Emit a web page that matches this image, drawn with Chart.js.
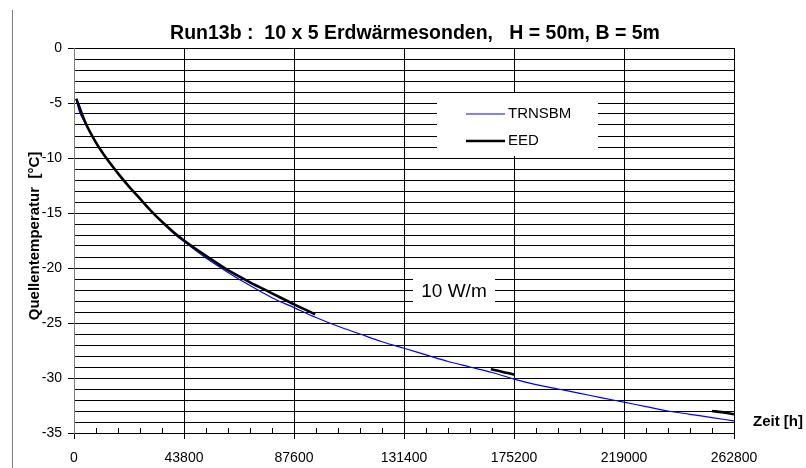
<!DOCTYPE html>
<html>
<head>
<meta charset="utf-8">
<script src="https://cdn.jsdelivr.net/npm/chart.js@4"></script>
<style>
  html, body { margin: 0; padding: 0; background: #fff; }
</style>
</head>
<body>
<canvas id="chart" width="806" height="468"></canvas>
<script>
// values
const titleText = 'Run13b :  10 x 5 Erdwärmesonden,   H = 50m, B = 5m';
const yTitle = 'Quellentemperatur  [°C]';
const xTitle = 'Zeit [h]';
const seriesNames = ['TRNSBM', 'EED'];
const noteText = '10 W/m';

const xMajorStep = 43800;
const xMinorStep = 8760;
const xMax = 262800;
const yMin = -35, yMax = 0;

const trnsbmHours = [900, 2190, 4380, 8760, 13140, 17520, 21900, 26280, 30660, 35040, 39420, 43800,
  52560, 61320, 70080, 78840, 87600, 96360, 105120, 113880, 122640, 131400, 140160, 148920,
  157680, 166440, 175200, 183960, 192720, 201480, 210240, 219000, 227760, 236520, 245280, 254040, 262800];
const trnsbmTemp = [-4.7, -5.8, -6.8, -8.6, -10.1, -11.4, -12.6, -13.7, -14.8, -15.8, -16.8, -17.6,
  -19.1, -20.4, -21.6, -22.7, -23.6, -24.5, -25.3, -26.0, -26.7, -27.3, -27.9, -28.5,
  -29.0, -29.5, -30.1, -30.6, -31.0, -31.4, -31.8, -32.2, -32.6, -33.0, -33.3, -33.6, -33.9];

// EED only has three stretches; null breaks the line between them
const eedHours = [900, 4380, 8760, 13140, 17520, 21900, 26280, 30660, 35040, 39420, 43800,
  52560, 61320, 70080, 78840, 87600, 96000, 130000,
  166000, 170000, 175500, 215000,
  254000, 258000, 262800];
const eedTemp = [-4.6, -6.7, -8.6, -10.1, -11.4, -12.6, -13.7, -14.8, -15.8, -16.7, -17.5,
  -18.9, -20.2, -21.3, -22.3, -23.3, -24.2, null,
  -29.2, -29.4, -29.7, null,
  -33.0, -33.1, -33.3];

const FONT = "'Liberation Sans', Arial, sans-serif";
Chart.defaults.font.family = FONT;
Chart.defaults.color = '#000';

const toPoints = (xs, ys) => xs.map((x, i) => ({ x: x, y: ys[i] }));

// white boxes, titles and extra tick marks
const decor = {
  id: 'decor',
  beforeDatasetsDraw(chart) {
    const ctx = chart.ctx;
    ctx.save();
    ctx.fillStyle = '#fff';
    ctx.fillRect(437, 93, 161, 63);
    ctx.fillRect(413, 271, 82, 40);

    // legend
    ctx.lineWidth = 1.2;
    ctx.strokeStyle = '#0000ff';
    ctx.beginPath(); ctx.moveTo(466, 114); ctx.lineTo(505, 114); ctx.stroke();
    ctx.lineWidth = 2.6;
    ctx.strokeStyle = '#000';
    ctx.beginPath(); ctx.moveTo(466, 141); ctx.lineTo(505, 141); ctx.stroke();
    ctx.fillStyle = '#000';
    ctx.font = '15px ' + FONT;
    ctx.textAlign = 'left';
    ctx.textBaseline = 'middle';
    ctx.fillText(seriesNames[0], 508, 114);
    ctx.fillText(seriesNames[1], 508, 141);

    ctx.font = '19px ' + FONT;
    ctx.textAlign = 'center';
    ctx.fillText(noteText, 454, 292);
    ctx.restore();
  },
  afterDraw(chart) {
    const ctx = chart.ctx;
    const xs = chart.scales.x;
    const area = chart.chartArea;
    ctx.save();
    // minor ticks on the time axis, pointing up
    ctx.strokeStyle = '#000';
    ctx.lineWidth = 1;
    for (let v = xMinorStep; v < xMax; v += xMinorStep) {
      if (v % xMajorStep === 0) continue;
      const px = Math.round(xs.getPixelForValue(v)) + 0.5;
      ctx.beginPath(); ctx.moveTo(px, area.bottom); ctx.lineTo(px, area.bottom - 5); ctx.stroke();
    }
    // left frame line
    ctx.strokeStyle = '#808080';
    ctx.beginPath(); ctx.moveTo(12.5, 10); ctx.lineTo(12.5, 468); ctx.stroke();

    ctx.fillStyle = '#000';
    ctx.font = 'bold 19.5px ' + FONT;
    ctx.textAlign = 'center';
    ctx.textBaseline = 'alphabetic';
    ctx.fillText(titleText, 415, 39);

    ctx.font = 'bold 15px ' + FONT;
    ctx.textAlign = 'left';
    ctx.textBaseline = 'middle';
    ctx.fillText(xTitle, 753, 422);

    ctx.translate(35, 236);
    ctx.rotate(-Math.PI / 2);
    ctx.textAlign = 'center';
    ctx.fillText(yTitle, 0, 0);
    ctx.restore();
  }
};

new Chart(document.getElementById('chart'), {
  type: 'scatter',
  data: {
    datasets: [
      {
        label: seriesNames[1],
        data: toPoints(eedHours, eedTemp),
        showLine: true,
        borderColor: '#000',
        borderWidth: 2.6,
        pointRadius: 0,
        spanGaps: false,
        cubicInterpolationMode: 'monotone'
      },
      {
        label: seriesNames[0],
        data: toPoints(trnsbmHours, trnsbmTemp),
        showLine: true,
        borderColor: '#0000ff',
        borderWidth: 1.2,
        pointRadius: 0,
        cubicInterpolationMode: 'monotone'
      }
    ]
  },
  options: {
    responsive: false,
    animation: false,
    layout: { padding: { top: 48, right: 72, left: 0, bottom: 0 } },
    plugins: {
      legend: { display: false },
      tooltip: { enabled: false }
    },
    scales: {
      x: {
        type: 'linear',
        min: 0,
        max: xMax,
        afterFit: s => { s.height = 35; },
        ticks: {
          stepSize: xMinorStep,
          autoSkip: false,
          maxRotation: 0,
          padding: 11,
          font: { size: 14 },
          callback: v => (v % xMajorStep === 0 ? String(v) : '')
        },
        grid: {
          color: c => (c.tick && c.tick.value % xMajorStep === 0 ? '#000' : 'rgba(0,0,0,0)'),
          tickColor: c => (c.tick && c.tick.value % xMajorStep === 0 ? '#000' : 'rgba(0,0,0,0)'),
          tickLength: 6
        },
        border: { color: '#000' }
      },
      y: {
        min: yMin,
        max: yMax,
        afterFit: s => { s.width = 74; },
        ticks: {
          stepSize: 1,
          autoSkip: false,
          padding: 6,
          font: { size: 14 },
          callback: v => (v % 5 === 0 ? String(v) : '')
        },
        grid: {
          color: '#000',
          tickColor: c => (c.tick && c.tick.value % 5 === 0 ? '#000' : 'rgba(0,0,0,0)'),
          tickLength: 6
        },
        border: { color: '#808080' }
      }
    }
  },
  plugins: [decor]
});
</script>
</body>
</html>
